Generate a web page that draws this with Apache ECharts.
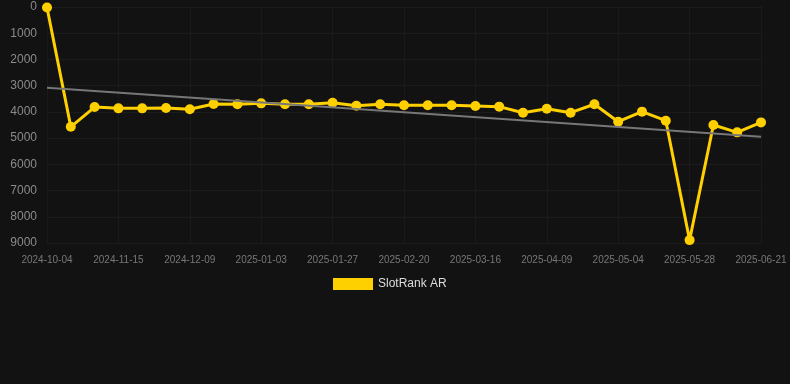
<!DOCTYPE html>
<html>
<head>
<meta charset="utf-8">
<script src="https://cdn.jsdelivr.net/npm/echarts@6/dist/echarts.min.js"></script>
<style>
  html, body { margin: 0; padding: 0; background: #121212; }
  #chart { width: 790px; height: 384px; }
</style>
</head>
<body>
<div id="chart"></div>
<script>
const dates = [
  '2024-10-04', '2024-10-18', '2024-11-01', '2024-11-15', '2024-11-23', '2024-12-01',
  '2024-12-09', '2024-12-17', '2024-12-25', '2025-01-03', '2025-01-11', '2025-01-19',
  '2025-01-27', '2025-02-04', '2025-02-12', '2025-02-20', '2025-02-28', '2025-03-08',
  '2025-03-16', '2025-03-24', '2025-04-01', '2025-04-09', '2025-04-17', '2025-04-25',
  '2025-05-04', '2025-05-12', '2025-05-20', '2025-05-28', '2025-06-05', '2025-06-13',
  '2025-06-21'
];
const rankAR = [
  20, 4570, 3815, 3865, 3865, 3850,
  3900, 3700, 3710, 3675, 3710, 3710,
  3650, 3765, 3710, 3750, 3750, 3750,
  3775, 3800, 4030, 3880, 4030, 3710,
  4375, 3990, 4335, 8890, 4500, 4780,
  4400
];
// trend line end values (first and last date)
const trendEnds = [3080, 4950];

const chart = echarts.init(document.getElementById('chart'));
chart.setOption({
  backgroundColor: '#121212',
  animation: false,
  grid: { left: 47, right: 29, top: 7, bottom: 141 },
  legend: {
    top: 273,
    left: 328,
    itemWidth: 40,
    itemHeight: 12,
    itemGap: 5,
    textStyle: { color: '#dddddd', fontSize: 12 },
    data: [{ name: 'SlotRank AR', icon: 'rect' }]
  },
  xAxis: {
    type: 'category',
    data: dates,
    boundaryGap: false,
    axisLine: { show: false },
    axisTick: { show: false },
    axisLabel: { color: '#777777', fontSize: 10, interval: 2, margin: 12 },
    splitLine: { show: true, interval: 2, lineStyle: { color: '#1a1a1a' } }
  },
  yAxis: {
    type: 'value',
    inverse: true,
    min: 0,
    max: 9000,
    interval: 1000,
    axisLine: { show: false },
    axisTick: { show: false },
    axisLabel: { color: '#8a8a8a', fontSize: 12, margin: 10, formatter: v => String(v) },
    splitLine: { lineStyle: { color: '#1c1c1c' } }
  },
  series: [
    {
      name: 'SlotRank AR',
      type: 'line',
      data: rankAR,
      color: '#ffd000',
      symbol: 'circle',
      symbolSize: 10,
      lineStyle: { width: 3, color: '#ffd000' },
      itemStyle: { color: '#ffd000' },
      z: 3,
      markLine: {
        silent: true,
        symbol: 'none',
        label: { show: false },
        lineStyle: { color: '#777777', width: 2, type: 'solid' },
        data: [[
          { coord: [dates[0], trendEnds[0]] },
          { coord: [dates[dates.length - 1], trendEnds[1]] }
        ]]
      }
    }
  ]
});
</script>
</body>
</html>
